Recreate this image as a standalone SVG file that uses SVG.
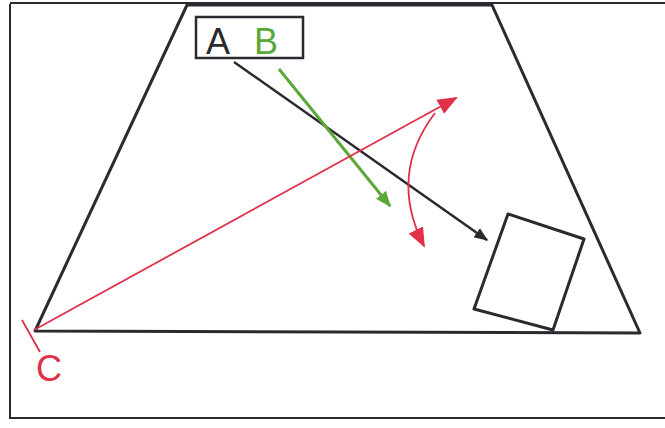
<svg xmlns="http://www.w3.org/2000/svg" width="665" height="428" viewBox="0 0 665 428">
<style>
.k{fill:none;stroke:#2a2a30;stroke-width:3;stroke-linejoin:round}
.r{fill:none;stroke:#e0304a;stroke-width:1.8}
.t{font-family:"Liberation Sans",Arial,sans-serif;font-size:36px}
</style>
<defs>
<marker id="ah" viewBox="0 0 10 10" refX="9" refY="5" markerWidth="7" markerHeight="7" orient="auto" markerUnits="userSpaceOnUse"><path d="M0,0 L10,5 L0,10 Z" fill="context-stroke"/></marker>
<marker id="ak" viewBox="0 0 10 10" refX="9" refY="5" markerWidth="14" markerHeight="14" orient="auto" markerUnits="userSpaceOnUse"><path d="M0,1 L10,5 L0,9 Z" fill="#2a2a30"/></marker>
<marker id="ag" viewBox="0 0 10 10" refX="9" refY="5" markerWidth="16" markerHeight="16" orient="auto" markerUnits="userSpaceOnUse"><path d="M0,1 L10,5 L0,9 Z" fill="#5aa83a"/></marker>
<marker id="ar" viewBox="0 0 10 10" refX="9" refY="5" markerWidth="20" markerHeight="20" orient="auto" markerUnits="userSpaceOnUse"><path d="M0,1 L10,5 L0,9 Z" fill="#e0304a"/></marker>
</defs>
<rect width="665" height="428" fill="#fff"/>
<path d="M10,4 L10,418 L665,418 M10,3 L665,3" fill="none" stroke="#2a2a30" stroke-width="2"/>
<g id="trapezoid"><path class="k" d="M187,5 L492,5 L640,333 L35,331 Z"/></g>
<g id="ab">
<rect x="196" y="17" width="107" height="41" fill="none" stroke="#2a2a30" stroke-width="2.5"/>
<text class="t" x="206" y="54" fill="#2a2a30">A</text>
<text class="t" x="254" y="54" fill="#5aa83a">B</text>
</g>
<g id="square"><path class="k" d="M508,214 L584,239 L553,330 L474,309 Z" stroke-width="2.5"/></g>
<g id="c">
<text class="t" x="36" y="381" fill="#e0304a" font-size="44">C</text>
</g>
<g id="connectors">
<path d="M234,62 L487,240" stroke="#2a2a30" stroke-width="2.5" fill="none" marker-end="url(#ak)"/>
<path d="M279,69 L390,206" stroke="#5aa83a" stroke-width="3" fill="none" marker-end="url(#ag)"/>
<path class="r" d="M34,330 L456,98" marker-end="url(#ar)"/>
<path class="r" d="M22,320 L40,352" stroke-width="3"/>
<path class="r" d="M435,113 Q388,175 424,246" marker-end="url(#ar)"/>
</g>
</svg>
